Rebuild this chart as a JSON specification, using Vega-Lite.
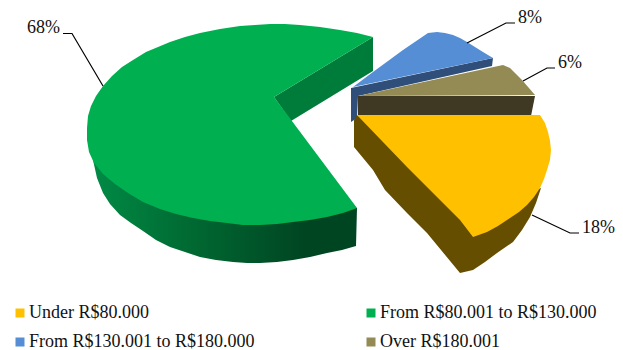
{
"$schema":"https://vega.github.io/schema/vega-lite/v6.json",
"width":623,"height":350,"padding":0,"autosize":{"type":"none"},"background":"white",
"config":{"view":{"stroke":null},"text":{"font":"Liberation Serif"}},
"datasets":{
"outline":[
{"face":"green rim","seq":1,"x":93,"y":160},{"face":"green rim","seq":2,"x":97,"y":178},{"face":"green rim","seq":3,"x":103,"y":193},{"face":"green rim","seq":4,"x":110,"y":204},{"face":"green rim","seq":5,"x":120,"y":215},{"face":"green rim","seq":6,"x":131,"y":223},{"face":"green rim","seq":7,"x":143,"y":231},{"face":"green rim","seq":8,"x":156,"y":240},{"face":"green rim","seq":9,"x":170,"y":247},{"face":"green rim","seq":10,"x":185,"y":252},{"face":"green rim","seq":11,"x":200,"y":257},{"face":"green rim","seq":12,"x":216,"y":260},{"face":"green rim","seq":13,"x":233,"y":262},{"face":"green rim","seq":14,"x":247,"y":263},{"face":"green rim","seq":15,"x":260,"y":263},{"face":"green rim","seq":16,"x":277,"y":262},{"face":"green rim","seq":17,"x":293,"y":260},{"face":"green rim","seq":18,"x":310,"y":257},{"face":"green rim","seq":19,"x":327,"y":253},{"face":"green rim","seq":20,"x":342,"y":250},{"face":"green rim","seq":21,"x":356,"y":246},{"face":"green rim","seq":22,"x":357,"y":208},{"face":"green rim","seq":23,"x":260,"y":200},{"face":"green rim","seq":24,"x":120,"y":170},

{"face":"green cut","seq":1,"x":274,"y":97},{"face":"green cut","seq":2,"x":373,"y":37},{"face":"green cut","seq":3,"x":373,"y":71},{"face":"green cut","seq":4,"x":291,"y":121},
{"face":"blue side","seq":1,"x":351,"y":88},{"face":"blue side","seq":2,"x":493,"y":58},{"face":"blue side","seq":3,"x":492,"y":66},{"face":"blue side","seq":4,"x":358,"y":96},{"face":"blue side","seq":5,"x":357,"y":118},{"face":"blue side","seq":6,"x":351,"y":122},
{"face":"olive side","seq":1,"x":358,"y":96},{"face":"olive side","seq":2,"x":535,"y":96},{"face":"olive side","seq":3,"x":533,"y":106},{"face":"olive side","seq":4,"x":531,"y":116},{"face":"olive side","seq":5,"x":358,"y":116},
{"face":"yellow side","seq":1,"x":357,"y":115},{"face":"yellow side","seq":2,"x":354,"y":120},{"face":"yellow side","seq":3,"x":354,"y":147},{"face":"yellow side","seq":4,"x":373,"y":170},{"face":"yellow side","seq":5,"x":385,"y":190},{"face":"yellow side","seq":6,"x":407,"y":213},{"face":"yellow side","seq":7,"x":427,"y":233},{"face":"yellow side","seq":8,"x":460,"y":273},{"face":"yellow side","seq":9,"x":473,"y":270},{"face":"yellow side","seq":10,"x":485,"y":262},{"face":"yellow side","seq":11,"x":497,"y":253},{"face":"yellow side","seq":12,"x":513,"y":242},{"face":"yellow side","seq":13,"x":522,"y":230},{"face":"yellow side","seq":14,"x":530,"y":217},{"face":"yellow side","seq":15,"x":536,"y":203},{"face":"yellow side","seq":16,"x":541,"y":188},{"face":"yellow side","seq":17,"x":480,"y":210},{"face":"yellow side","seq":18,"x":420,"y":160},

{"face":"top","tier":"From R$80.001 to R$130.000","seq":1,"x":274,"y":97},{"face":"top","tier":"From R$80.001 to R$130.000","seq":2,"x":373,"y":37},{"face":"top","tier":"From R$80.001 to R$130.000","seq":3,"x":357,"y":33},{"face":"top","tier":"From R$80.001 to R$130.000","seq":4,"x":340,"y":30},{"face":"top","tier":"From R$80.001 to R$130.000","seq":5,"x":320,"y":27},{"face":"top","tier":"From R$80.001 to R$130.000","seq":6,"x":300,"y":25},{"face":"top","tier":"From R$80.001 to R$130.000","seq":7,"x":285,"y":24},{"face":"top","tier":"From R$80.001 to R$130.000","seq":8,"x":270,"y":24},{"face":"top","tier":"From R$80.001 to R$130.000","seq":9,"x":255,"y":25},{"face":"top","tier":"From R$80.001 to R$130.000","seq":10,"x":240,"y":26},{"face":"top","tier":"From R$80.001 to R$130.000","seq":11,"x":220,"y":29},{"face":"top","tier":"From R$80.001 to R$130.000","seq":12,"x":200,"y":33},{"face":"top","tier":"From R$80.001 to R$130.000","seq":13,"x":185,"y":37},{"face":"top","tier":"From R$80.001 to R$130.000","seq":14,"x":170,"y":42},{"face":"top","tier":"From R$80.001 to R$130.000","seq":15,"x":158,"y":47},{"face":"top","tier":"From R$80.001 to R$130.000","seq":16,"x":146,"y":52},{"face":"top","tier":"From R$80.001 to R$130.000","seq":17,"x":133,"y":60},{"face":"top","tier":"From R$80.001 to R$130.000","seq":18,"x":122,"y":67},{"face":"top","tier":"From R$80.001 to R$130.000","seq":19,"x":112,"y":76},{"face":"top","tier":"From R$80.001 to R$130.000","seq":20,"x":103,"y":86},{"face":"top","tier":"From R$80.001 to R$130.000","seq":21,"x":96,"y":96},{"face":"top","tier":"From R$80.001 to R$130.000","seq":22,"x":91,"y":106},{"face":"top","tier":"From R$80.001 to R$130.000","seq":23,"x":88,"y":116},{"face":"top","tier":"From R$80.001 to R$130.000","seq":24,"x":87,"y":128},{"face":"top","tier":"From R$80.001 to R$130.000","seq":25,"x":87,"y":140},{"face":"top","tier":"From R$80.001 to R$130.000","seq":26,"x":89,"y":152},{"face":"top","tier":"From R$80.001 to R$130.000","seq":27,"x":94,"y":163},{"face":"top","tier":"From R$80.001 to R$130.000","seq":28,"x":103,"y":174},{"face":"top","tier":"From R$80.001 to R$130.000","seq":29,"x":115,"y":184},{"face":"top","tier":"From R$80.001 to R$130.000","seq":30,"x":128,"y":193},{"face":"top","tier":"From R$80.001 to R$130.000","seq":31,"x":143,"y":202},{"face":"top","tier":"From R$80.001 to R$130.000","seq":32,"x":160,"y":209},{"face":"top","tier":"From R$80.001 to R$130.000","seq":33,"x":176,"y":214},{"face":"top","tier":"From R$80.001 to R$130.000","seq":34,"x":193,"y":218},{"face":"top","tier":"From R$80.001 to R$130.000","seq":35,"x":210,"y":221},{"face":"top","tier":"From R$80.001 to R$130.000","seq":36,"x":227,"y":223},{"face":"top","tier":"From R$80.001 to R$130.000","seq":37,"x":243,"y":225},{"face":"top","tier":"From R$80.001 to R$130.000","seq":38,"x":260,"y":225},{"face":"top","tier":"From R$80.001 to R$130.000","seq":39,"x":277,"y":224},{"face":"top","tier":"From R$80.001 to R$130.000","seq":40,"x":293,"y":222},{"face":"top","tier":"From R$80.001 to R$130.000","seq":41,"x":310,"y":220},{"face":"top","tier":"From R$80.001 to R$130.000","seq":42,"x":327,"y":217},{"face":"top","tier":"From R$80.001 to R$130.000","seq":43,"x":343,"y":213},{"face":"top","tier":"From R$80.001 to R$130.000","seq":44,"x":357,"y":208},

{"face":"top","tier":"From R$130.001 to R$180.000","seq":1,"x":353,"y":87},{"face":"top","tier":"From R$130.001 to R$180.000","seq":2,"x":373,"y":72},{"face":"top","tier":"From R$130.001 to R$180.000","seq":3,"x":403,"y":50},{"face":"top","tier":"From R$130.001 to R$180.000","seq":4,"x":428,"y":33},{"face":"top","tier":"From R$130.001 to R$180.000","seq":5,"x":437,"y":32},{"face":"top","tier":"From R$130.001 to R$180.000","seq":6,"x":445,"y":33},{"face":"top","tier":"From R$130.001 to R$180.000","seq":7,"x":453,"y":35},{"face":"top","tier":"From R$130.001 to R$180.000","seq":8,"x":460,"y":38},{"face":"top","tier":"From R$130.001 to R$180.000","seq":9,"x":467,"y":42},{"face":"top","tier":"From R$130.001 to R$180.000","seq":10,"x":475,"y":47},{"face":"top","tier":"From R$130.001 to R$180.000","seq":11,"x":483,"y":52},{"face":"top","tier":"From R$130.001 to R$180.000","seq":12,"x":493,"y":58},

{"face":"top","tier":"Over R$180.001","seq":1,"x":358,"y":96},{"face":"top","tier":"Over R$180.001","seq":2,"x":503,"y":65},{"face":"top","tier":"Over R$180.001","seq":3,"x":510,"y":68},{"face":"top","tier":"Over R$180.001","seq":4,"x":522,"y":80},{"face":"top","tier":"Over R$180.001","seq":5,"x":535,"y":95},

{"face":"top","tier":"Under R$80.000","seq":1,"x":357,"y":115},{"face":"top","tier":"Under R$80.000","seq":2,"x":540,"y":115},{"face":"top","tier":"Under R$80.000","seq":3,"x":545,"y":123},{"face":"top","tier":"Under R$80.000","seq":4,"x":548,"y":132},{"face":"top","tier":"Under R$80.000","seq":5,"x":550,"y":141},{"face":"top","tier":"Under R$80.000","seq":6,"x":551,"y":150},{"face":"top","tier":"Under R$80.000","seq":7,"x":550,"y":160},{"face":"top","tier":"Under R$80.000","seq":8,"x":547,"y":170},{"face":"top","tier":"Under R$80.000","seq":9,"x":544,"y":179},{"face":"top","tier":"Under R$80.000","seq":10,"x":540,"y":188},{"face":"top","tier":"Under R$80.000","seq":11,"x":534,"y":197},{"face":"top","tier":"Under R$80.000","seq":12,"x":527,"y":205},{"face":"top","tier":"Under R$80.000","seq":13,"x":519,"y":212},{"face":"top","tier":"Under R$80.000","seq":14,"x":510,"y":218},{"face":"top","tier":"Under R$80.000","seq":15,"x":498,"y":226},{"face":"top","tier":"Under R$80.000","seq":16,"x":487,"y":232},{"face":"top","tier":"Under R$80.000","seq":17,"x":473,"y":237},{"face":"top","tier":"Under R$80.000","seq":18,"x":460,"y":220},{"face":"top","tier":"Under R$80.000","seq":19,"x":407,"y":167}
],
"leaders":[
{"tier":"From R$80.001 to R$130.000","seq":1,"x":63,"y":33.5},{"tier":"From R$80.001 to R$130.000","seq":2,"x":72,"y":33.5},{"tier":"From R$80.001 to R$130.000","seq":3,"x":103,"y":86},
{"tier":"From R$130.001 to R$180.000","seq":1,"x":467,"y":43},{"tier":"From R$130.001 to R$180.000","seq":2,"x":506,"y":23},{"tier":"From R$130.001 to R$180.000","seq":3,"x":515,"y":23},
{"tier":"Over R$180.001","seq":1,"x":523,"y":81},{"tier":"Over R$180.001","seq":2,"x":547,"y":68},{"tier":"Over R$180.001","seq":3,"x":555,"y":68},
{"tier":"Under R$80.000","seq":1,"x":532,"y":215},{"tier":"Under R$80.000","seq":2,"x":570,"y":233},{"tier":"Under R$80.000","seq":3,"x":579,"y":233}
],
"shares":[
{"tier":"From R$80.001 to R$130.000","share":0.68,"x":27,"y":28},
{"tier":"From R$130.001 to R$180.000","share":0.08,"x":518,"y":18},
{"tier":"Over R$180.001","share":0.06,"x":558,"y":63},
{"tier":"Under R$80.000","share":0.18,"x":582,"y":228}
]
},
"encoding":{
"x":{"field":"x","type":"quantitative","scale":{"domain":[0,623],"nice":false,"zero":false},"axis":null},
"y":{"field":"y","type":"quantitative","scale":{"domain":[350,0],"nice":false,"zero":false},"axis":null}
},
"layer":[
{"data":{"name":"outline"},"transform":[{"filter":"datum.face==='green rim'"}],
"mark":{"type":"line","strokeWidth":0,"fill":{"gradient":"linear","x1":0,"y1":0,"x2":1,"y2":0,"stops":[{"offset":0,"color":"#008a45"},{"offset":0.35,"color":"#006b33"},{"offset":0.8,"color":"#004522"},{"offset":1,"color":"#004522"}]}},
"encoding":{"order":{"field":"seq","type":"quantitative"}}},
{"data":{"name":"outline"},"transform":[{"filter":"datum.face!=='green rim'&&datum.face!=='top'"}],
"mark":{"type":"line","strokeWidth":0},
"encoding":{"order":{"field":"seq","type":"quantitative"},
"fill":{"field":"face","type":"nominal","legend":null,"scale":{"domain":["green cut","blue side","olive side","yellow side"],"range":["#007c3a","#2f4e79","#3f3822","#654e00"]}}}},
{"data":{"name":"outline"},"transform":[{"filter":"datum.face==='top'"}],
"mark":{"type":"line","strokeWidth":0},
"encoding":{"order":{"field":"seq","type":"quantitative"},
"fill":{"field":"tier","type":"nominal",
"scale":{"domain":["Under R$80.000","From R$130.001 to R$180.000","From R$80.001 to R$130.000","Over R$180.001"],"range":["#ffc000","#558ed5","#00b050","#948a54"]},
"legend":{"title":null,"orient":"none","legendX":11,"legendY":304,"columns":2,"columnPadding":107,"rowPadding":11,"symbolType":"square","symbolSize":81,"symbolStrokeWidth":0,"labelFont":"Liberation Serif","labelFontSize":18,"labelColor":"#111","labelOffset":0,"labelLimit":300}}}},
{"data":{"name":"leaders"},"mark":{"type":"line","stroke":"#000","strokeWidth":1.2},
"encoding":{"detail":{"field":"tier"},"order":{"field":"seq","type":"quantitative"}}},
{"data":{"name":"shares"},"mark":{"type":"text","align":"left","baseline":"middle","font":"Liberation Serif","fontSize":18,"fill":"#111"},
"encoding":{"text":{"field":"share","type":"quantitative","format":".0%"}}}
],
"resolve":{"scale":{"fill":"independent"}}
}
